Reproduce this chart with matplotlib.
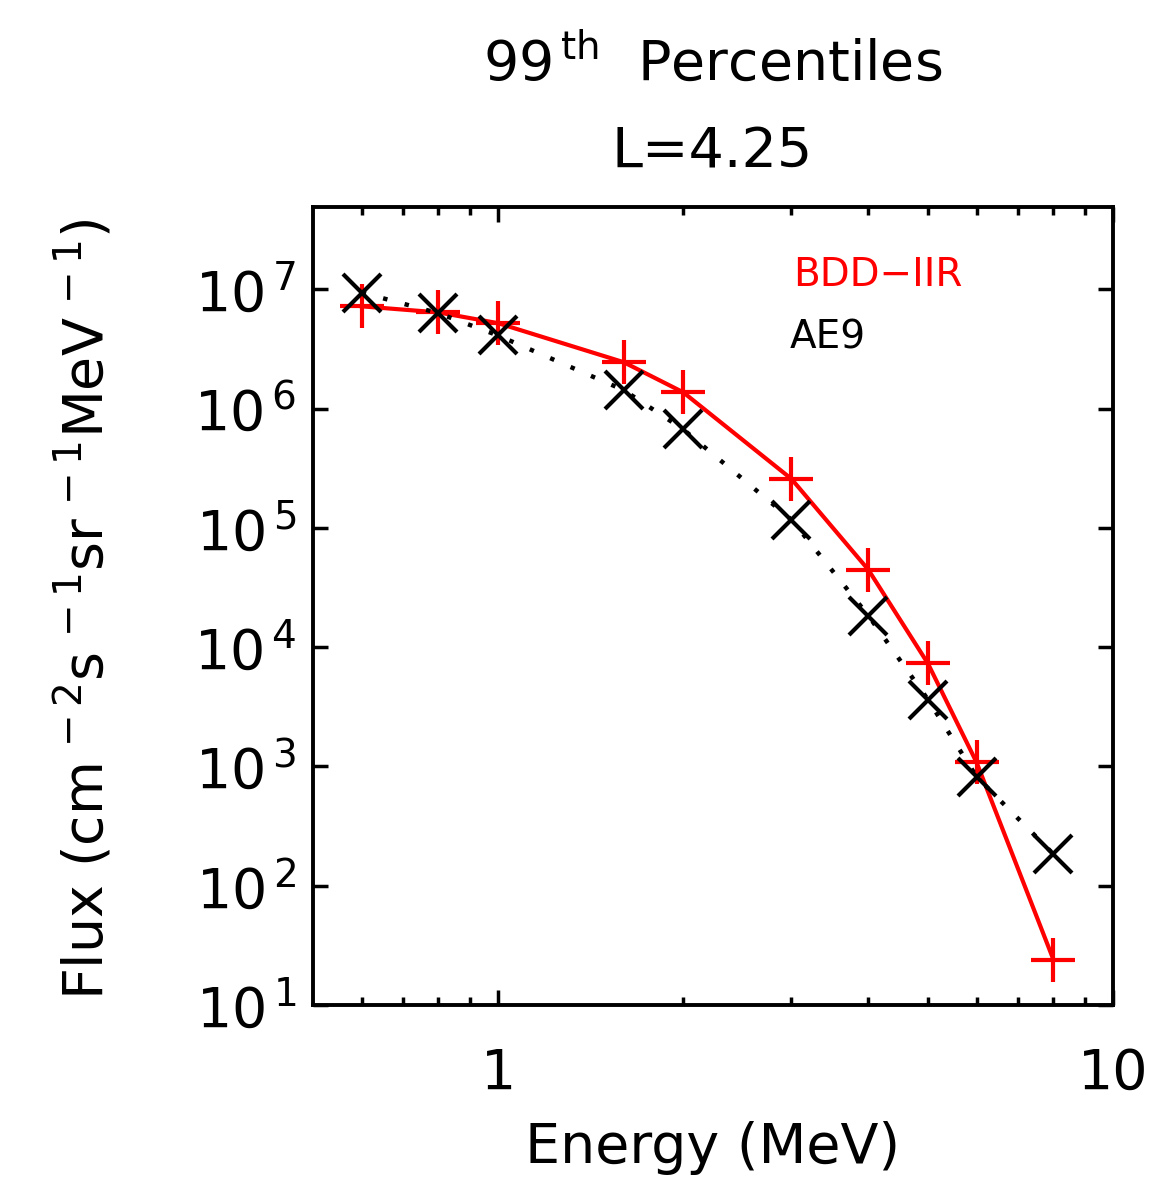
import matplotlib
matplotlib.use("Agg")
import matplotlib.pyplot as plt
import numpy as np

plt.rcParams['font.family'] = ['DejaVu Sans']
plt.rcParams['mathtext.fontset'] = 'dejavusans'
plt.rcParams['mathtext.default'] = 'regular'

# energies (MeV) and 99th percentile fluxes at L=4.25
energy = [0.6, 0.8, 1.0, 1.6, 2.0, 3.0, 4.0, 5.0, 6.0, 8.0]
flux_bdd = [7.2e6, 6.4e6, 5.2e6, 2.45e6, 1.37e6, 2.57e5, 4.46e4, 7.3e3, 1.08e3, 24]
flux_ae9 = [9.4e6, 6.3e6, 4.1e6, 1.43e6, 6.7e5, 1.17e5, 1.84e4, 3.64e3, 8.2e2, 1.84e2]

fig = plt.figure(figsize=(11.7, 11.8), dpi=100)
ax = fig.add_axes([0.2675, 0.1483, 0.6838, 0.6763])

ax.plot(energy, flux_bdd, color='red', lw=3, marker='+', ms=32, mew=3, zorder=2)
ax.plot(energy, flux_ae9, color='black', lw=3.2, linestyle=(0, (1, 4)),
        marker='x', ms=27, mew=3, zorder=3)

ax.set_xscale('log')
ax.set_yscale('log')
ax.set_xlim(0.5, 10)
ax.set_ylim(10, 4.9e7)

ax.set_xticks([1, 10], ['1', '10'])
ax.set_xticks([0.6, 0.7, 0.8, 0.9, 2, 3, 4, 5, 6, 7, 8, 9], minor=True)
ax.set_xticklabels([], minor=True)
yt = [10.0 ** k for k in range(1, 8)]
ax.set_yticks(yt, [r'$10^{\,%d}$' % k for k in range(1, 8)])
ax.yaxis.set_minor_locator(matplotlib.ticker.NullLocator())

ax.tick_params(which='both', direction='in', top=True, right=True, width=2.5,
               labelsize=40, colors='black')
ax.tick_params(which='major', length=11)
ax.tick_params(which='minor', length=6)
ax.tick_params(axis='x', pad=30)
ax.tick_params(axis='y', pad=12)
for s in ax.spines.values():
    s.set_linewidth(2.8)

ax.text(0.6, 0.901, 'BDD\u2212IIR', color='red', fontsize=28, transform=ax.transAxes, va='baseline')
ax.text(0.596, 0.823, 'AE9', color='black', fontsize=28, transform=ax.transAxes, va='baseline')

fig.text(0.609, 0.932, r'99$^{\,th}$  Percentiles', fontsize=40, ha='center', va='baseline')
fig.text(0.609, 0.858, 'L=4.25', fontsize=40, ha='center', va='baseline')
fig.text(0.609, 0.0144, 'Energy (MeV)', fontsize=40, ha='center', va='baseline')
fig.text(0.0726, 0.484, r'Flux (cm$^{\,-2}$s$^{\,-1}$sr$^{\,-1}$MeV$^{\,-1}$)', fontsize=40,
         rotation=90, ha='center', va='center')

fig.savefig('out.png', dpi=100)
